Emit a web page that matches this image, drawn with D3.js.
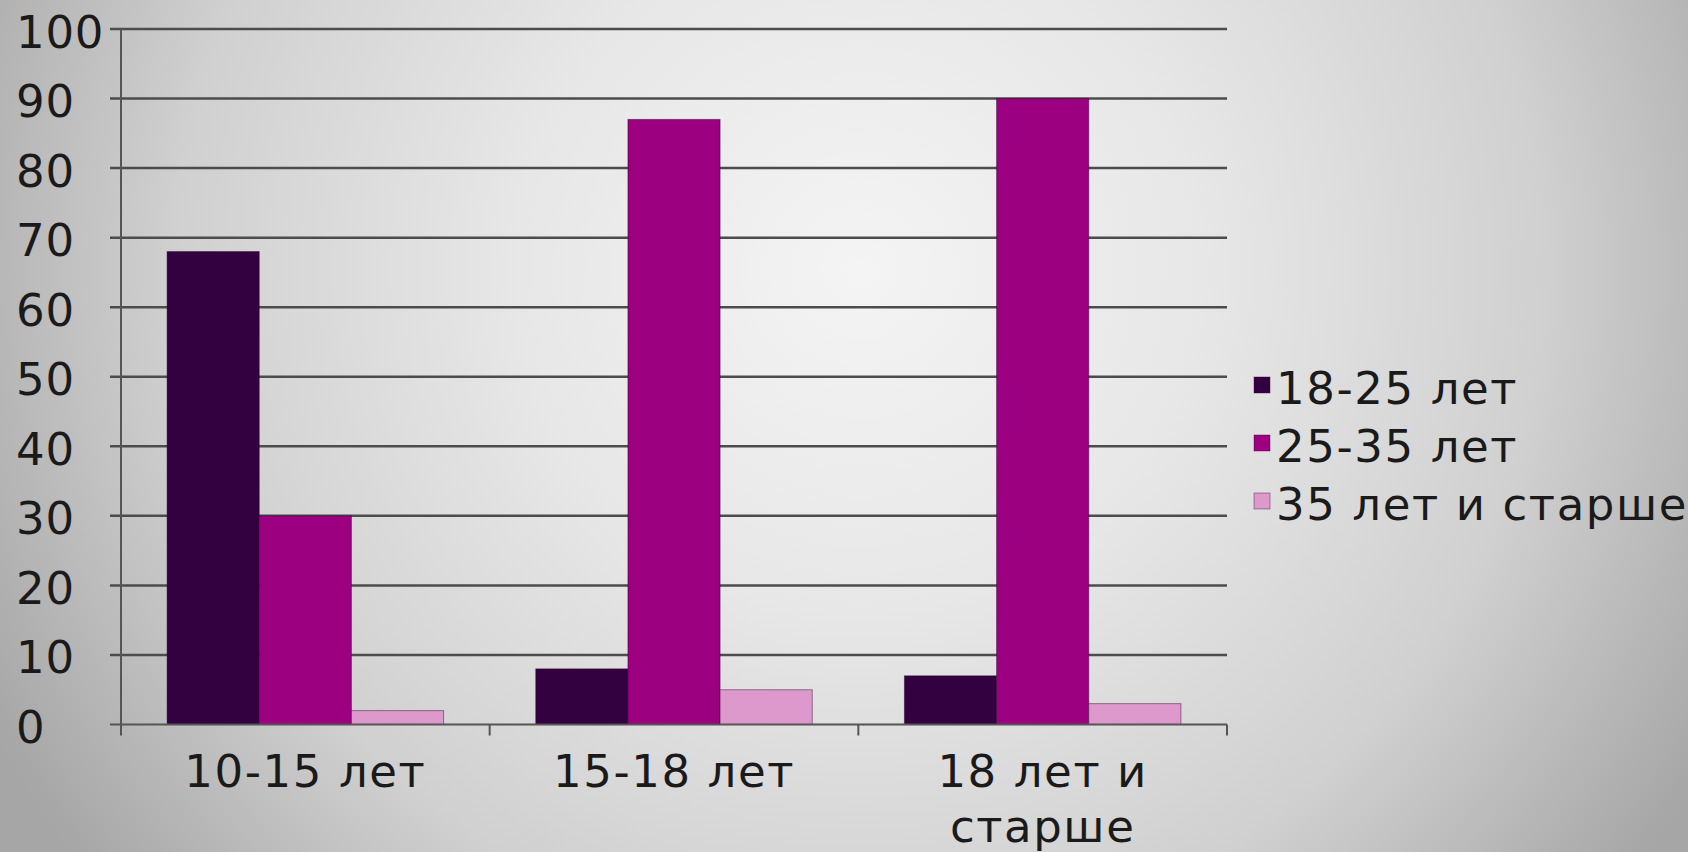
<!DOCTYPE html>
<html>
<head>
<meta charset="utf-8">
<script src="https://cdn.jsdelivr.net/npm/d3@7"></script>
<style>
  html, body { margin: 0; padding: 0; overflow: hidden; }
  svg { display: block; font-family: "DejaVu Sans", Verdana, sans-serif; }
</style>
</head>
<body>
<svg class="chart" width="1688" height="852"></svg>
<script>
const categories = [["10-15 лет"], ["15-18 лет"], ["18 лет и", "старше"]];
const seriesNames = ["18-25 лет", "25-35 лет", "35 лет и старше"];
const seriesColors = ["#330040", "#9c0080", "#dd99cc"];
const values = [
  [68, 8, 7],   // 18-25 лет
  [30, 87, 90], // 25-35 лет
  [2, 5, 3]     // 35 лет и старше
];
const yTicks = [0, 10, 20, 30, 40, 50, 60, 70, 80, 90, 100];

const W = 1688, H = 852;
const plot = { left: 121, right: 1227, top: 29, bottom: 724.5 };

const svg = d3.select("svg.chart");

// background
const defs = svg.append("defs");
const grad = defs.append("radialGradient")
  .attr("id", "bg")
  .attr("gradientUnits", "userSpaceOnUse")
  .attr("cx", 860).attr("cy", 270).attr("r", 980);
[[0, "#f4f4f4"], [0.35, "#e7e7e7"], [0.7, "#d0d0d0"], [1, "#a6a6a6"]].forEach(s => {
  grad.append("stop").attr("offset", s[0]).attr("stop-color", s[1]);
});
svg.append("rect").attr("width", W).attr("height", H).attr("fill", "url(#bg)");

const catKeys = categories.map(c => c.join(" "));

const x = d3.scaleBand()
  .domain(catKeys)
  .range([plot.left, plot.right])
  .padding(0);

const xs = d3.scaleBand()
  .domain(seriesNames)
  .range([0, x.bandwidth()])
  .paddingInner(0)
  .paddingOuter(0.5);

const y = d3.scaleLinear()
  .domain([0, 100])
  .range([plot.bottom, plot.top]);

// gridlines
svg.append("g")
  .selectAll("line")
  .data(yTicks.filter(d => d > 0))
  .enter().append("line")
  .attr("x1", plot.left - 11)
  .attr("x2", plot.right)
  .attr("y1", d => y(d))
  .attr("y2", d => y(d))
  .attr("stroke", "#4c4c4c")
  .attr("stroke-width", 2.5);

// bars
seriesNames.forEach((name, si) => {
  svg.append("g")
    .selectAll("rect")
    .data(values[si])
    .enter().append("rect")
    .attr("x", (d, i) => x(catKeys[i]) + xs(name))
    .attr("y", d => y(d))
    .attr("width", xs.bandwidth())
    .attr("height", d => y(0) - y(d))
    .attr("fill", seriesColors[si])
    .attr("stroke", "rgba(40,0,40,0.45)")
    .attr("stroke-width", 1);
});

// y axis
svg.append("line")
  .attr("x1", plot.left).attr("x2", plot.left)
  .attr("y1", plot.top).attr("y2", plot.bottom + 11)
  .attr("stroke", "#555").attr("stroke-width", 2);

svg.append("line")
  .attr("x1", plot.left - 11).attr("x2", plot.left)
  .attr("y1", y(0)).attr("y2", y(0))
  .attr("stroke", "#555").attr("stroke-width", 2);

svg.append("g")
  .selectAll("text")
  .data(yTicks)
  .enter().append("text")
  .attr("x", 16)
  .attr("y", d => y(d) + 3)
  .attr("dominant-baseline", "central")
  .attr("font-size", 45)
  .attr("letter-spacing", 0.8)
  .attr("fill", "#1a1a1a")
  .text(d => d);

// x axis
svg.append("line")
  .attr("x1", plot.left).attr("x2", plot.right)
  .attr("y1", y(0)).attr("y2", y(0))
  .attr("stroke", "#555").attr("stroke-width", 2);

svg.append("g")
  .selectAll("line")
  .data(catKeys.slice(1).concat([null]))
  .enter().append("line")
  .attr("x1", d => d === null ? plot.right : x(d))
  .attr("x2", d => d === null ? plot.right : x(d))
  .attr("y1", y(0))
  .attr("y2", y(0) + 11)
  .attr("stroke", "#555").attr("stroke-width", 2);

const catLabels = svg.append("g")
  .selectAll("text")
  .data(categories)
  .enter().append("text")
  .attr("x", (d, i) => x(catKeys[i]) + x.bandwidth() / 2)
  .attr("y", 787)
  .attr("text-anchor", "middle")
  .attr("font-size", 45)
  .attr("letter-spacing", 1.6)
  .attr("fill", "#1a1a1a");

catLabels.selectAll("tspan")
  .data((d, i) => d.map(t => ({ t: t, cx: x(catKeys[i]) + x.bandwidth() / 2 })))
  .enter().append("tspan")
  .attr("x", d => d.cx)
  .attr("dy", (d, j) => j === 0 ? 0 : 55)
  .text(d => d.t);

// legend
const legend = svg.append("g")
  .attr("transform", "translate(1254,0)");

seriesNames.forEach((name, i) => {
  const base = 404 + i * 58;
  legend.append("rect")
    .attr("x", 0)
    .attr("y", base - 27)
    .attr("width", 16)
    .attr("height", 16)
    .attr("fill", seriesColors[i])
    .attr("stroke", "rgba(60,0,60,0.4)")
    .attr("stroke-width", 1);
  legend.append("text")
    .attr("x", 22)
    .attr("y", base)
    .attr("font-size", 45)
    .attr("letter-spacing", 1.6)
    .attr("fill", "#1a1a1a")
    .text(name);
});
</script>
</body>
</html>
